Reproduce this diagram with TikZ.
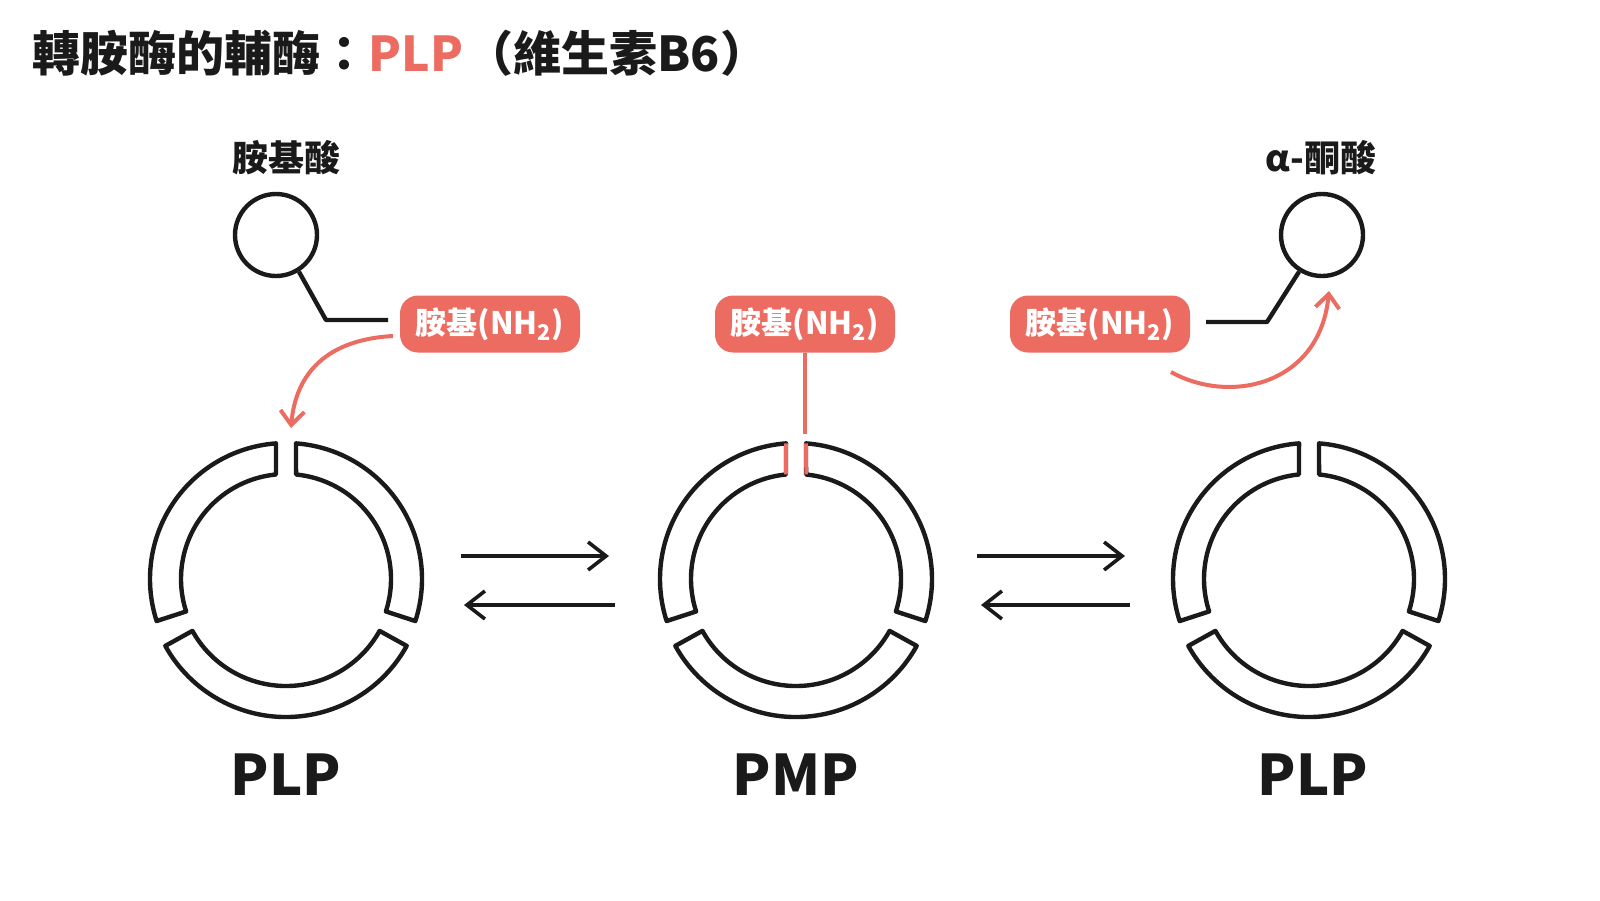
\documentclass[tikz,border=0pt]{standalone}
\usepackage{fontspec}
\setmainfont{Noto Sans CJK TC}
\usetikzlibrary{arrows.meta}
\definecolor{accent}{HTML}{EC6C62}
\definecolor{ink}{HTML}{1A1A1A}
\begin{document}
\begin{tikzpicture}[x=0.5pt,y=0.5pt,
  seg/.style={draw=ink,line width=2.2pt,line join=round},
  box/.style={fill=accent,rounded corners=9pt,minimum width=90pt,minimum height=28.5pt,text=white,font=\fontsize{15.5}{15.5}\selectfont\bfseries,inner sep=0pt},
  lbl/.style={text=ink,font=\fontsize{18}{18}\selectfont\bfseries},
  big/.style={text=ink,font=\fontsize{28}{28}\selectfont\bfseries},
  eq/.style={draw=ink,line width=1.8pt,-{Straight Barb[length=9pt,width=14pt,line width=1.8pt]}},
  red/.style={draw=accent,line width=1.8pt}]
\useasboundingbox (0,0) rectangle (1600,-900);
\node[anchor=west,text=ink,font=\fontsize{24}{24}\selectfont\bfseries,inner sep=0pt] (title) at (32,-53) {轉胺酶的輔酶：\textcolor{accent}{PLP}\hspace{0.05em}（維生素B6）};
% rings
\foreach \cx/\nm in {286/r1,796/r2,1309/r3}{
  \coordinate (\nm) at (\cx,-579);
  \begin{scope}[shift={(\nm)}]
    \path[seg] (85.8:136) arc[start angle=85.8,end angle=-18,radius=136] -- (-18:105) arc[start angle=-18,end angle=84.5,radius=105] -- cycle;
    \path[seg] (94.2:136) arc[start angle=94.2,end angle=198,radius=136] -- (198:105) arc[start angle=198,end angle=95.5,radius=105] -- cycle;
    \path[seg] (-29:138) arc[start angle=-29,end angle=-151,radius=138] -- (-151:107) arc[start angle=-151,end angle=-29,radius=107] -- cycle;
  \end{scope}
}
\begin{scope}[shift={(r2)}]
  \draw[red] (94.2:136) -- (95.5:105);
  \draw[red] (85.8:136) -- (84.5:105);
\end{scope}
\node[big] (plp1) at (286,-775) {PLP};
\node[big] (pmp) at (796,-775) {PMP};
\node[big] (plp2) at (1313,-775) {PLP};
% equilibrium arrows
\coordinate (e1a) at (461,-556); \coordinate (e1b) at (609,-556);
\coordinate (e1c) at (615,-605); \coordinate (e1d) at (464,-605);
\coordinate (e2a) at (977,-556); \coordinate (e2b) at (1125,-556);
\coordinate (e2c) at (1130,-605); \coordinate (e2d) at (981,-605);
\draw[eq] (e1a) -- (e1b); \draw[eq] (e1c) -- (e1d);
\draw[eq] (e2a) -- (e2b); \draw[eq] (e2c) -- (e2d);
% left amino acid
\node[lbl] (aa) at (286,-158) {胺基酸};
\node[draw=ink,line width=2.2pt,circle,minimum size=41pt,inner sep=0pt] (c1) at (276,-235) {};
\node[box] (b1) at (490,-324) {胺基(NH\textsubscript{2})};
\draw[ink,line width=2.2pt,line join=round] (c1.-58) -- (326,-320) -- (388,-320);
\draw[accent,line width=2pt,-{Straight Barb[length=7pt,width=12pt,line width=2pt]}] (393,-336) .. controls (320,-340) and (295,-380) .. (291,-428);
% middle
\node[box] (b2) at (805,-324) {胺基(NH\textsubscript{2})};
\draw[red] (b2.south) -- (805,-434);
% right keto acid
\node[lbl] (ka) at (1321,-158) {α-酮酸};
\node[draw=ink,line width=2.2pt,circle,minimum size=41pt,inner sep=0pt] (c3) at (1322,-235) {};
\node[box] (b3) at (1100,-324) {胺基(NH\textsubscript{2})};
\draw[ink,line width=2.2pt,line join=round] (1206,-322) -- (1267,-322) -- (c3.-122);
\draw[accent,line width=2pt,-{Straight Barb[length=7pt,width=12pt,line width=2pt]}] (1171,-372) .. controls (1230,-405) and (1320,-385) .. (1329,-291);
\end{tikzpicture}
\end{document}
